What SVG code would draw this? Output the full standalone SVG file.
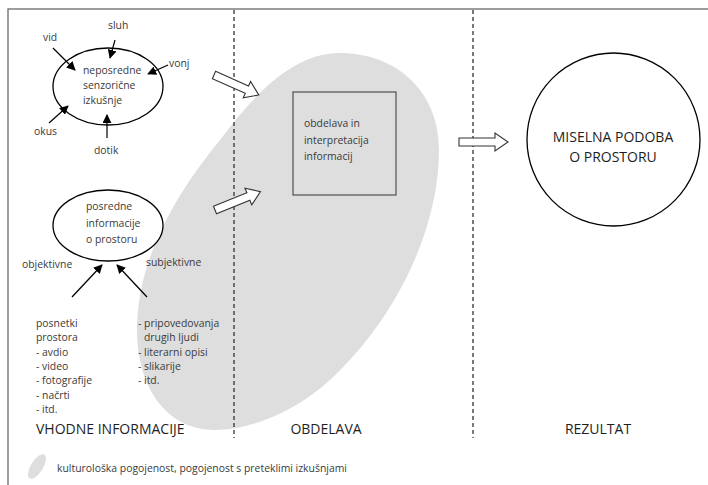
<svg xmlns="http://www.w3.org/2000/svg" width="708" height="485" viewBox="0 0 708 485">
<defs>
<marker id="ah" viewBox="0 0 10 10" refX="9" refY="5" markerWidth="9" markerHeight="9" markerUnits="userSpaceOnUse" orient="auto">
<path d="M0,0 L10,5 L0,10 Z" fill="#000"/>
</marker>
<path id="blk" d="M0,-4 L36,-4 L36,-9 L49,0 L36,9 L36,4 L0,4 Z"/>
</defs>
<style>
text{font-family:"Open Sans","Liberation Sans",sans-serif;fill:#3a3a3a;font-size:10.4px}
.h{font-size:14px;fill:#1e1e1e}
.node{fill:#fff;stroke:#000;stroke-width:1.3}
.dash{stroke:#333;stroke-width:1.3;stroke-dasharray:4 3;fill:none}
.arr{stroke:#000;stroke-width:1.2;fill:none;marker-end:url(#ah)}
.blk{fill:#fff;stroke:#333;stroke-width:1.1}
</style>
<rect width="708" height="485" fill="#fff"/>
<rect x="8" y="9" width="720" height="500" fill="none" stroke="#6a6a6a" stroke-width="1.3"/>
<g id="culture-area">
<path d="M340,53 C395,53 439,90 439,150 C439,230 395,320 330,380 C295,412 250,430 215,430 C165,430 137,385 137,330 C137,260 175,195 220,140 C250,100 290,53 340,53 Z" fill="#dedede"/>
</g>
<g id="dividers">
<line class="dash" x1="234" y1="10" x2="234" y2="438"/>
<line class="dash" x1="473" y1="10" x2="473" y2="438"/>
</g>
<g id="senzorne">
<ellipse class="node" cx="108" cy="86.5" rx="55" ry="38.5"/>
<text x="83" y="74">neposredne</text>
<text x="83" y="89">senzorične</text>
<text x="83" y="104">izkušnje</text>
</g>
<g id="vid"><text x="43" y="41">vid</text></g>
<g id="sluh"><text x="108" y="29">sluh</text></g>
<g id="vonj"><text x="169" y="67">vonj</text></g>
<g id="okus"><text x="34" y="135">okus</text></g>
<g id="dotik"><text x="94" y="154">dotik</text></g>
<g id="posredne">
<ellipse class="node" cx="108" cy="225.5" rx="55" ry="35.5"/>
<text x="86" y="210">posredne</text>
<text x="86" y="226.5">informacije</text>
<text x="86" y="243">o prostoru</text>
</g>
<g id="objektivne"><text x="22" y="268">objektivne</text></g>
<g id="subjektivne"><text x="146" y="266">subjektivne</text></g>
<g id="objektivne-list">
<text x="36" y="327">posnetki</text>
<text x="36" y="341.3">prostora</text>
<text x="36" y="355.6">- avdio</text>
<text x="36" y="369.9">- video</text>
<text x="36" y="384.2">- fotografije</text>
<text x="36" y="398.5">- načrti</text>
<text x="36" y="412.8">- itd.</text>
</g>
<g id="subjektivne-list">
<text x="138" y="327">- pripovedovanja</text>
<text x="144" y="341.3">drugih ljudi</text>
<text x="138" y="355.6">- literarni opisi</text>
<text x="138" y="369.9">- slikarije</text>
<text x="138" y="384.2">- itd.</text>
</g>
<g id="obdelava-box">
<rect x="293" y="92" width="103" height="103" fill="none" stroke="#595959" stroke-width="1.3"/>
<text x="304" y="127">obdelava in</text>
<text x="304" y="143.5">interpretacija</text>
<text x="304" y="160">informacij</text>
</g>
<g id="rezultat-node">
<circle class="node" cx="613.5" cy="139.5" r="86.5"/>
<text class="h" x="613" y="142" text-anchor="middle" font-size="13.7">MISELNA PODOBA</text>
<text class="h" x="613" y="162" text-anchor="middle" font-size="13.7">O PROSTORU</text>
</g>
<g id="connectors">
<line class="arr" x1="53" y1="48" x2="75" y2="70"/>
<line class="arr" x1="115" y1="40" x2="110" y2="58"/>
<line class="arr" x1="168" y1="65" x2="148" y2="74"/>
<line class="arr" x1="49" y1="123" x2="68" y2="106"/>
<line class="arr" x1="107" y1="138" x2="107" y2="115"/>
<line class="arr" x1="72" y1="297" x2="102" y2="265"/>
<line class="arr" x1="147" y1="297" x2="117" y2="265"/>
<use href="#blk" class="blk" transform="translate(214 75) rotate(24)"/>
<use href="#blk" class="blk" transform="translate(215 210) rotate(-22)"/>
<use href="#blk" class="blk" transform="translate(459 142)"/>
</g>
<g id="column-titles">
<text class="h" x="36" y="434">VHODNE INFORMACIJE</text>
<text class="h" x="326" y="434" text-anchor="middle">OBDELAVA</text>
<text class="h" x="598" y="434" text-anchor="middle">REZULTAT</text>
</g>
<g id="legend">
<ellipse cx="37" cy="466.5" rx="6" ry="14" transform="rotate(32 37 466.5)" fill="#dedede"/>
<text x="57" y="472">kulturološka pogojenost, pogojenost s preteklimi izkušnjami</text>
</g>
</svg>
